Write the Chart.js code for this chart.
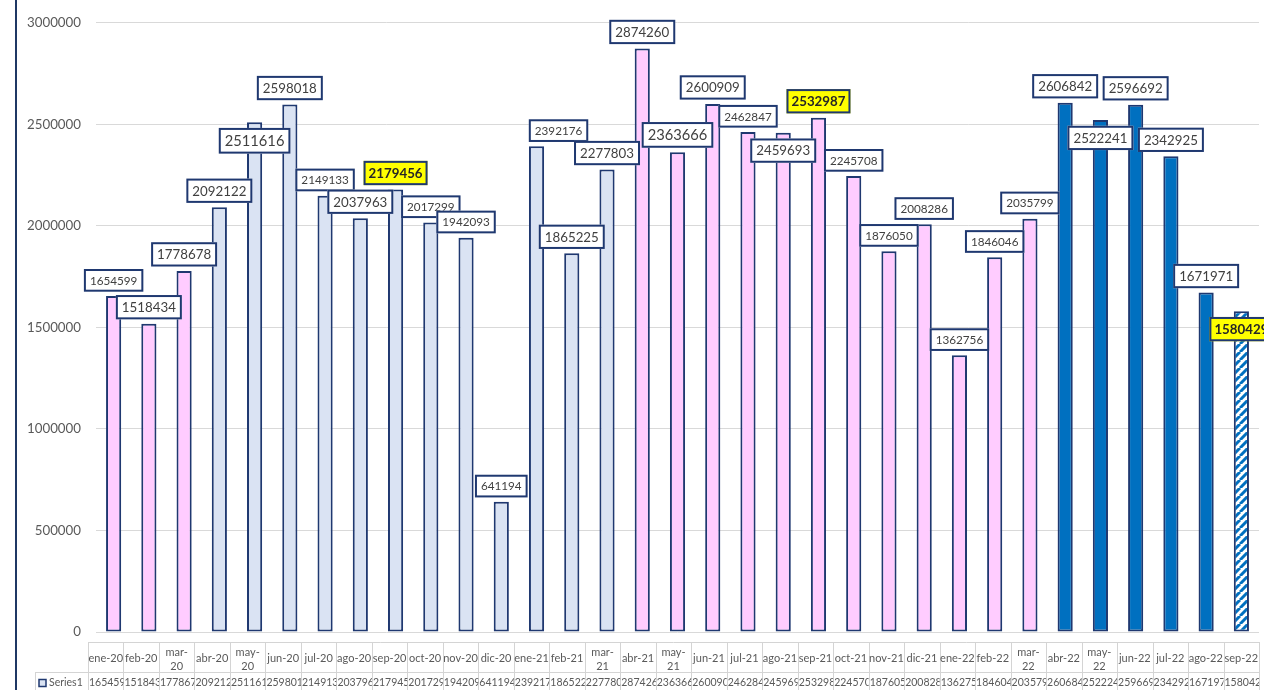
<!DOCTYPE html>
<html><head><meta charset="utf-8">
<script src="https://cdn.jsdelivr.net/npm/chart.js@4"></script>
<style>html,body{margin:0;padding:0;background:#fff;overflow:hidden}#wrap{width:1264px;height:690px;position:relative}</style>
</head><body><div id="wrap"><canvas id="c" width="1264" height="690"></canvas></div>
<script>
// ---- data ----
const categories = ['ene-20','feb-20','mar-20','abr-20','may-20','jun-20','jul-20','ago-20','sep-20','oct-20','nov-20','dic-20',
  'ene-21','feb-21','mar-21','abr-21','may-21','jun-21','jul-21','ago-21','sep-21','oct-21','nov-21','dic-21',
  'ene-22','feb-22','mar-22','abr-22','may-22','jun-22','jul-22','ago-22','sep-22'];
const values = [1654599,1518434,1778678,2092122,2511616,2598018,2149133,2037963,2179456,2017299,1942093,641194,
  2392176,1865225,2277803,2874260,2363666,2600909,2462847,2459693,2532987,2245708,1876050,2008286,
  1362756,1846046,2035799,2606842,2522241,2596692,2342925,1671971,1580429];
const yTicks = [0,500000,1000000,1500000,2000000,2500000,3000000];
const seriesName = 'Series1';

// ---- styles (kept separate from data) ----
const barStyle = ['pink','pink','pink','light','light','light','light','light','light','light','light','light',
  'light','light','light','pink','pink','pink','pink','pink','pink','pink','pink','pink',
  'pink','pink','pink','blue','blue','blue','blue','blue','hatch'];
const labelSize = ['s','m','m','m','l','m','s','m','m','s','s','s',
  's','m','m','m','l','m','s','m','m','s','s','s',
  's','s','s','m','m','m','m','m','m'];
const labelBelow = [4,19,28,32];
const highlighted = [8,20,32];
const labelShift = {12: 22};
const fontSizes = {s:11.7, m:13.3, l:14.7};
const NAVY = '#1F3870';

function hatchPattern(){
  const s = 8, c = document.createElement('canvas'); c.width = s; c.height = s;
  const g = c.getContext('2d');
  g.fillStyle = '#fff'; g.fillRect(0,0,s,s);
  g.strokeStyle = '#0070C0'; g.lineWidth = 3;
  g.beginPath();
  for (const o of [-s,0,s]) { g.moveTo(o, s); g.lineTo(o + s, 0); }
  g.stroke();
  return g.createPattern(c,'repeat');
}
const fillMap = {pink:'#FFCCFF', light:'#DAE3F3', blue:'#0070C0', hatch: hatchPattern()};

const labelPlugin = {
  id: 'boxLabels',
  afterDatasetsDraw(chart){
    const ctx = chart.ctx, meta = chart.getDatasetMeta(0);
    meta.data.forEach((bar, i) => {
      const hl = highlighted.includes(i);
      const fs = fontSizes[labelSize[i]];
      ctx.save();
      ctx.font = (hl ? 'bold ' : '') + fs + 'px Lato';
      const text = String(values[i]);
      const tw = ctx.measureText(text).width;
      const w = tw + (hl ? 10 : 12), h = fs + 11;
      const cx = bar.x + (labelShift[i] || 0);
      const cy = labelBelow.includes(i) ? bar.y + 5.8 + h/2 : bar.y - 4.4 - h/2;
      const x0 = cx - w/2, y0 = cy - h/2;
      ctx.fillStyle = hl ? '#FFFF00' : '#FFFFFF';
      ctx.fillRect(x0, y0, w, h);
      ctx.strokeStyle = NAVY; ctx.lineWidth = 2;
      ctx.strokeRect(x0 + 1, y0 + 1, w - 2, h - 2);
      ctx.fillStyle = hl ? '#262626' : '#404040';
      ctx.textAlign = 'center'; ctx.textBaseline = 'middle';
      ctx.fillText(text, cx, cy + 0.5);
      ctx.restore();
    });
  }
};

const tablePlugin = {
  id: 'dataTable',
  afterDraw(chart){
    const ctx = chart.ctx, a = chart.chartArea, n = categories.length;
    const tLeft = a.left - 8, tRight = a.right, cw = (tRight - tLeft) / n;
    const top = a.bottom + 10, mid = a.bottom + 40, bot = chart.height;
    ctx.save();
    // left chart border
    ctx.strokeStyle = '#1F3864'; ctx.lineWidth = 2;
    ctx.beginPath(); ctx.moveTo(16, 0); ctx.lineTo(16, bot); ctx.stroke();
    // grid
    ctx.strokeStyle = '#D4D4D4'; ctx.lineWidth = 1;
    ctx.beginPath();
    ctx.moveTo(tLeft, Math.round(top)+0.5); ctx.lineTo(tRight, Math.round(top)+0.5);
    ctx.moveTo(35, Math.round(mid)+0.5); ctx.lineTo(tRight, Math.round(mid)+0.5);
    for (let i = 0; i <= n; i++) {
      const x = Math.round(tLeft + i*cw) + 0.5;
      ctx.moveTo(x, top); ctx.lineTo(x, bot);
    }
    ctx.moveTo(35.5, mid); ctx.lineTo(35.5, bot);
    ctx.stroke();
    // header labels
    ctx.fillStyle = '#595959'; ctx.textAlign = 'center'; ctx.textBaseline = 'middle';
    ctx.font = '11px Lato';
    categories.forEach((c, i) => {
      const cx = tLeft + (i + 0.5) * cw;
      const m = c.split('-')[0];
      if (m === 'mar' || m === 'may') {
        ctx.fillText(m + '-', cx, top + 10);
        ctx.fillText(c.split('-')[1], cx, top + 24);
      } else {
        ctx.fillText(c, cx, top + 16.5);
      }
    });
    // value row
    ctx.font = '10.5px Lato'; ctx.textAlign = 'left';
    values.forEach((v, i) => {
      const x0 = tLeft + i * cw;
      ctx.save();
      ctx.beginPath(); ctx.rect(x0 + 1, mid + 1, cw - 1, bot - mid); ctx.clip();
      ctx.fillText(String(v), x0 + 1, mid + 11);
      ctx.restore();
    });
    // series name + key
    ctx.fillText(seriesName, 49, mid + 11);
    ctx.fillStyle = '#DAE3F3'; ctx.fillRect(39, mid + 7.5, 7, 7);
    ctx.strokeStyle = NAVY; ctx.lineWidth = 1.5; ctx.strokeRect(39, mid + 7.5, 7, 7);
    ctx.restore();
  }
};

new Chart(document.getElementById('c'), {
  type: 'bar',
  data: {
    labels: categories,
    datasets: [{
      label: seriesName,
      data: values,
      backgroundColor: barStyle.map(s => fillMap[s]),
      borderColor: NAVY,
      borderWidth: 2,
      borderSkipped: false,
      barPercentage: 0.43,
      categoryPercentage: 1
    }]
  },
  options: {
    responsive: false,
    animation: false,
    events: [],
    layout: {padding: {top: 11, right: 5, bottom: 58, left: 0}},
    plugins: {legend: {display: false}, tooltip: {enabled: false}},
    scales: {
      x: {display: false, offset: true},
      y: {
        min: 0, max: 3000000,
        afterFit(s){ s.width = 96; },
        afterBuildTicks(s){ s.ticks = yTicks.map(v => ({value: v})); },
        grid: {color: '#D9D9D9', lineWidth: 1, drawTicks: false},
        border: {display: false},
        ticks: {padding: 15, color: '#595959', font: {family: 'Lato', size: 13.3}, callback: v => String(v)}
      }
    }
  },
  plugins: [labelPlugin, tablePlugin]
});
</script></body></html>
